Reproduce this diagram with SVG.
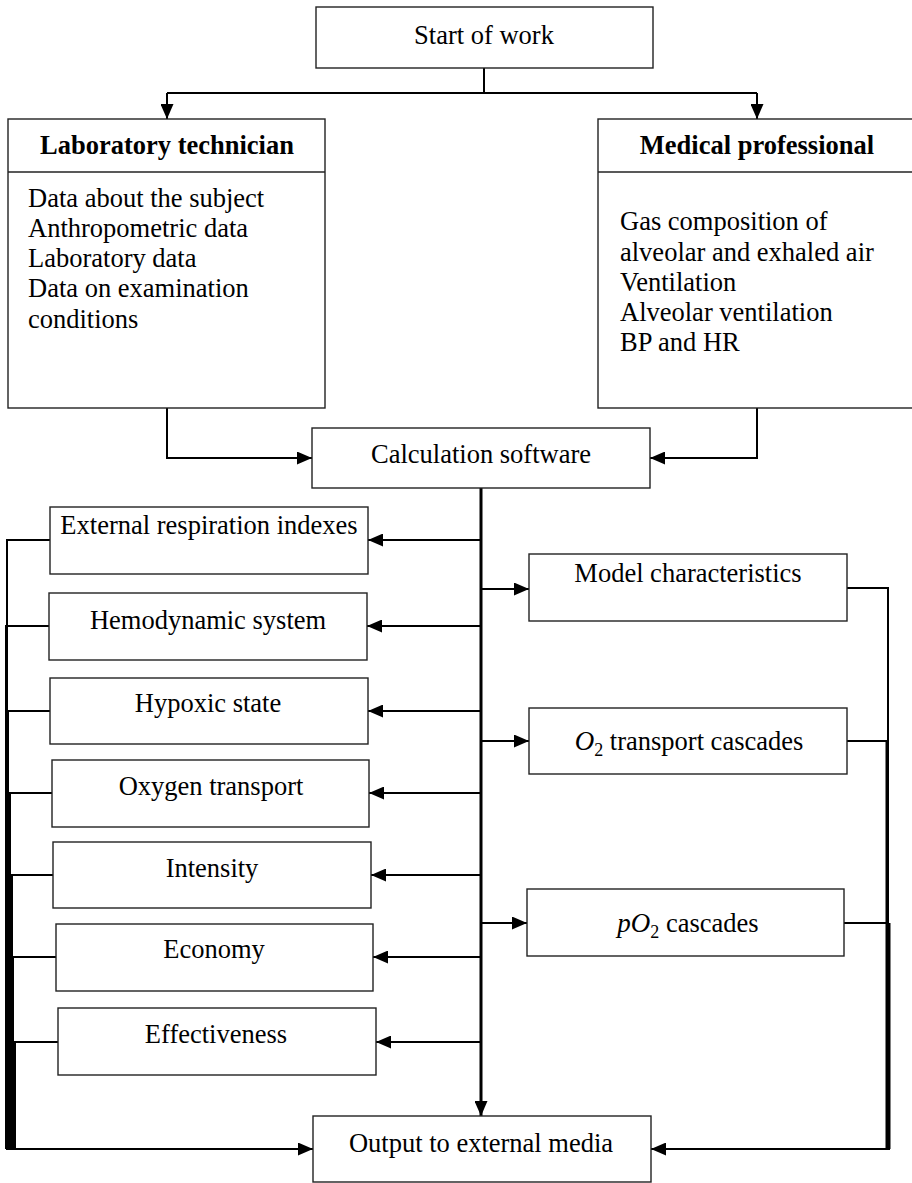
<svg xmlns="http://www.w3.org/2000/svg" width="912" height="1183" viewBox="0 0 912 1183">
<style>
.box{fill:#fff;stroke:#222;stroke-width:1.4}
text{font-family:'Liberation Serif','Times New Roman','DejaVu Serif',serif;font-size:26.5px;fill:#000}
.c{text-anchor:middle}
.b{font-weight:bold}
.ln{fill:none;stroke:#000;stroke-width:2}
.bus{fill:none;stroke:#000;stroke-width:3}
.ar{marker-end:url(#ah)}
</style>
<defs>
<marker id="ah" markerUnits="userSpaceOnUse" markerWidth="15" markerHeight="13" refX="15" refY="6.5" orient="auto">
<path d="M0,0 L15,6.5 L0,13 z" fill="#000"/>
</marker>
</defs>
<rect width="912" height="1183" fill="#fff"/>
<g id="connectors">
<path class="ln" d="M484,68 V93 M167,93 H757"/>
<path class="ln ar" d="M167,93 V119"/>
<path class="ln ar" d="M757,93 V119"/>
<path class="ln ar" d="M167,408 V458 H312"/>
<path class="ln ar" d="M757,408 V458 H650"/>
<path class="bus ar" d="M481,488 V1116"/>
<path class="ln ar" d="M481,540 H368"/>
<path class="ln ar" d="M481,626 H367"/>
<path class="ln ar" d="M481,711 H368"/>
<path class="ln ar" d="M481,793 H369"/>
<path class="ln ar" d="M481,875 H371"/>
<path class="ln ar" d="M481,957 H373"/>
<path class="ln ar" d="M481,1042 H376"/>
<path class="ln ar" d="M481,589 H529"/>
<path class="ln ar" d="M481,741 H529"/>
<path class="ln ar" d="M481,923 H527"/>
<path class="ln" d="M50,540 H7 V1149"/>
<path class="ln" d="M49,626 H6 V1149"/>
<path class="ln" d="M50,711 H8 V1149"/>
<path class="ln" d="M52,793 H10 V1149"/>
<path class="ln" d="M53,875 H12 V1149"/>
<path class="ln" d="M56,957 H13 V1149"/>
<path class="ln" d="M58,1042 H15 V1149"/>
<path class="ln ar" d="M6,1149 H313"/>
<path class="ln" d="M847,588 H888 V1149"/>
<path class="ln" d="M847,741 H887"/>
<path class="bus" d="M887,741 V1149"/>
<path class="ln" d="M844,923 H889"/>
<path class="bus" d="M889,923 V1149"/>
<path class="ln ar" d="M890,1149 H651"/>
</g>
<g id="start">
<rect class="box" x="316" y="7" width="337" height="61"/>
<text class="c" x="484" y="44">Start of work</text>
</g>
<g id="lab">
<rect class="box" x="8" y="119" width="317" height="289"/>
<line class="box" x1="8" y1="172" x2="325" y2="172"/>
<text class="c b" x="167" y="154">Laboratory technician</text>
<text x="28" y="207">Data about the subject</text>
<text x="28" y="237">Anthropometric data</text>
<text x="28" y="267">Laboratory data</text>
<text x="28" y="297">Data on examination</text>
<text x="28" y="328">conditions</text>
</g>
<g id="medical">
<rect class="box" x="598" y="119" width="320" height="289"/>
<line class="box" x1="598" y1="172" x2="918" y2="172"/>
<text class="c b" x="757" y="154">Medical professional</text>
<text x="620" y="230">Gas composition of</text>
<text x="620" y="261">alveolar and exhaled air</text>
<text x="620" y="291">Ventilation</text>
<text x="620" y="321">Alveolar ventilation</text>
<text x="620" y="351">BP and HR</text>
</g>
<g id="calc">
<rect class="box" x="312" y="428" width="338" height="60"/>
<text class="c" x="481" y="463">Calculation software</text>
</g>
<g id="eri">
<rect class="box" x="50" y="507" width="318" height="67"/>
<text class="c" x="209" y="534">External respiration indexes</text>
</g>
<g id="hemo">
<rect class="box" x="49" y="593" width="318" height="67"/>
<text class="c" x="208" y="629">Hemodynamic system</text>
</g>
<g id="hypoxic">
<rect class="box" x="50" y="678" width="318" height="66"/>
<text class="c" x="208" y="712">Hypoxic state</text>
</g>
<g id="oxygen">
<rect class="box" x="52" y="760" width="317" height="67"/>
<text class="c" x="211" y="795">Oxygen transport</text>
</g>
<g id="intensity">
<rect class="box" x="53" y="842" width="318" height="66"/>
<text class="c" x="212" y="877">Intensity</text>
</g>
<g id="economy">
<rect class="box" x="56" y="924" width="317" height="67"/>
<text class="c" x="214" y="958">Economy</text>
</g>
<g id="effectiveness">
<rect class="box" x="58" y="1008" width="318" height="67"/>
<text class="c" x="216" y="1043">Effectiveness</text>
</g>
<g id="model">
<rect class="box" x="529" y="554" width="318" height="67"/>
<text class="c" x="688" y="582">Model characteristics</text>
</g>
<g id="o2">
<rect class="box" x="529" y="708" width="318" height="66"/>
<text class="c" x="689" y="750"><tspan font-style="italic" font-size="27">O</tspan><tspan font-size="18" dy="6">2</tspan><tspan dy="-6">  transport cascades</tspan></text>
</g>
<g id="po2">
<rect class="box" x="527" y="889" width="317" height="67"/>
<text class="c" x="688" y="932"><tspan font-style="italic" font-size="27">pO</tspan><tspan font-size="18" dy="6">2</tspan><tspan dy="-6">  cascades</tspan></text>
</g>
<g id="output">
<rect class="box" x="313" y="1116" width="338" height="66"/>
<text class="c" x="481" y="1152">Output to external media</text>
</g>
</svg>
